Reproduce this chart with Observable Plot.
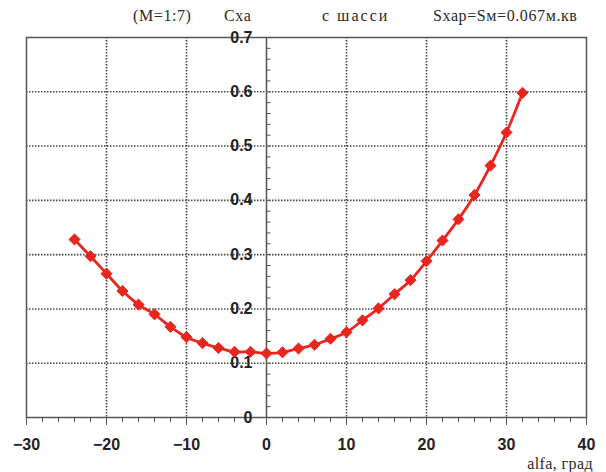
<!DOCTYPE html>
<html>
<head>
<meta charset="utf-8">
<script src="https://cdn.jsdelivr.net/npm/d3@7"></script>
<script src="https://cdn.jsdelivr.net/npm/@observablehq/plot@0.6"></script>
<style>
  html, body { margin: 0; padding: 0; background: #fff; }
  #wrap { position: relative; width: 606px; height: 472px; overflow: hidden; }
  .t { position: absolute; font-family: "Liberation Serif", "DejaVu Serif", serif; font-size: 16px; line-height: 1; color: #2a2a2a; white-space: nowrap; }
</style>
</head>
<body>
<div id="wrap">
  <div id="chart"></div>
  <span class="t" style="left:133px; top:8px; letter-spacing:0.6px;">(M=1:7)</span>
  <span class="t" style="left:224px; top:8px; letter-spacing:0.5px;">Cxa</span>
  <span class="t" style="left:322px; top:8px; letter-spacing:2px;">с шасси</span>
  <span class="t" style="left:433px; top:8px; letter-spacing:0.6px;">Sхар=Sм=0.067м.кв</span>
  <span class="t" style="right:13px; top:456px; letter-spacing:0.4px;">alfa, град</span>
</div>
<script>
const alfa = [-24, -22, -20, -18, -16, -14, -12, -10, -8, -6, -4, -2, 0, 2, 4, 6, 8, 10, 12, 14, 16, 18, 20, 22, 24, 26, 28, 30, 32];
const cxa = [0.328, 0.297, 0.265, 0.233, 0.208, 0.190, 0.167, 0.148, 0.137, 0.128, 0.121, 0.121, 0.118, 0.120, 0.127, 0.134, 0.145, 0.157, 0.179, 0.201, 0.227, 0.253, 0.288, 0.326, 0.365, 0.410, 0.464, 0.525, 0.598];
const xTicks = [-30, -20, -10, 0, 10, 20, 30, 40];
const xGrid = [-20, -10, 10, 20, 30];
const yTicks = [0, 0.1, 0.2, 0.3, 0.4, 0.5, 0.6, 0.7];
const yTickLabels = ["0", "0.1", "0.2", "0.3", "0.4", "0.5", "0.6", "0.7"];
const yGrid = [0.1, 0.2, 0.3, 0.4, 0.5, 0.6];

const data = alfa.map((a, i) => ({alfa: a, cxa: cxa[i]}));
const xMinor = d3.range(-30, 40.001, 2);
const yMinor = d3.range(0, 0.7001, 0.02);
const yLabelData = yTicks.map((v, i) => ({v, s: yTickLabels[i]}));

const tickRight = { draw(ctx) { ctx.moveTo(0, 0); ctx.lineTo(4, 0); } };

const red = "#e8261e";
const axisGray = "#555";

const chart = Plot.plot({
  width: 606,
  height: 472,
  marginTop: 37,
  marginBottom: 55,
  marginLeft: 26,
  marginRight: 20,
  style: { fontFamily: "'Liberation Sans', Arial, sans-serif", background: "#fff", color: "#222" },
  x: { domain: [-30, 40], label: null },
  y: { domain: [0, 0.7], axis: null, label: null },
  marks: [
    Plot.gridX(xGrid, { stroke: "#333", strokeOpacity: 0.9, strokeWidth: 1.6, strokeDasharray: "1.5,1.5" }),
    Plot.gridY(yGrid, { stroke: "#333", strokeOpacity: 0.9, strokeWidth: 1.6, strokeDasharray: "1.5,1.5" }),
    Plot.frame({ stroke: axisGray, strokeWidth: 1.5 }),
    Plot.axisX(xMinor, { tickSize: 5, text: null, label: null, stroke: axisGray }),
    Plot.axisX(xTicks, { tickSize: 8, tickPadding: 13, label: null, fontSize: 16, fontWeight: "bold", fill: "#222", stroke: axisGray }),
    Plot.ruleX([0], { stroke: axisGray, strokeWidth: 1.5 }),
    Plot.dot(yMinor, { x: 0, y: d => d, symbol: tickRight, stroke: axisGray, strokeWidth: 1, r: 4 }),
    Plot.text(yLabelData, { x: 0, y: "v", text: "s", textAnchor: "end", dx: -14, fontSize: 16, fontWeight: "bold", fill: "#222" }),
    Plot.line(data, { x: "alfa", y: "cxa", stroke: red, strokeWidth: 2.8, curve: "catmull-rom" }),
    Plot.dot(data, { x: "alfa", y: "cxa", symbol: "diamond2", r: 5, fill: red, stroke: red, strokeWidth: 1 })
  ]
});
document.getElementById("chart").appendChild(chart);
</script>
</body>
</html>
